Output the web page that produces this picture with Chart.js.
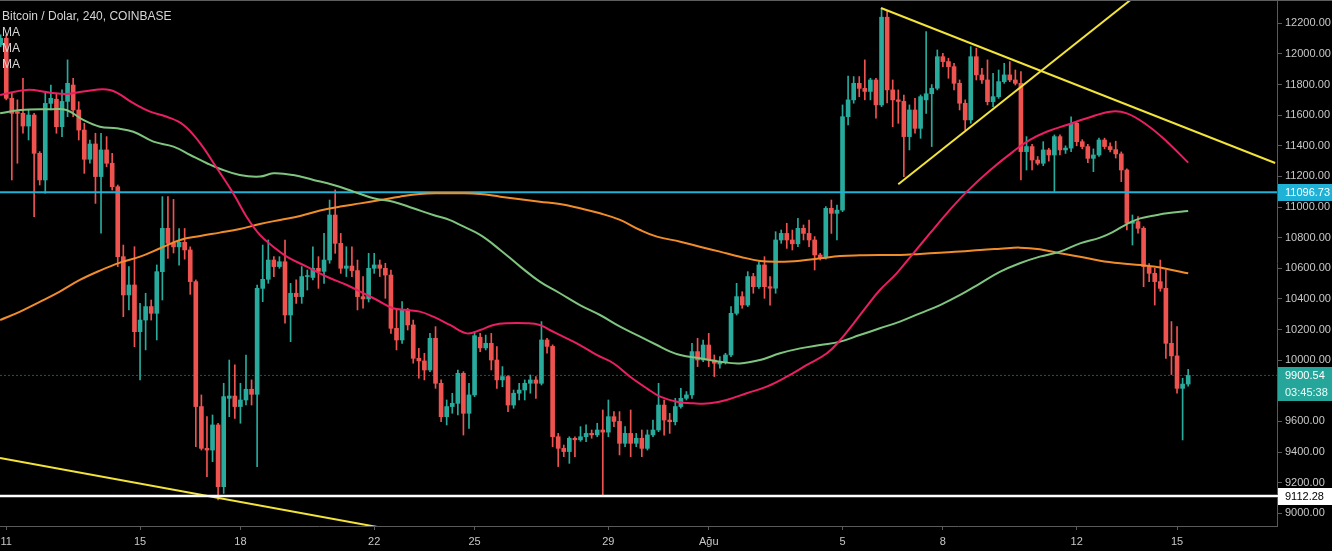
<!DOCTYPE html>
<html><head><meta charset="utf-8">
<script src="https://cdn.jsdelivr.net/npm/chart.js@4.4.1/dist/chart.umd.min.js"></script>
<style>
html,body{margin:0;padding:0;background:#000;overflow:hidden}
#wrap{position:relative;width:1332px;height:551px;background:#000}
canvas{display:block}
.leg{position:absolute;left:2px;color:#d6d6d6;font:12px "Liberation Sans",Arial,sans-serif;line-height:14px;white-space:nowrap}
</style></head><body>
<div id="wrap"><canvas id="c" width="1332" height="551"></canvas>
<div class="leg" style="top:9px">Bitcoin / Dolar, 240, COINBASE</div>
<div class="leg" style="top:25px">MA</div>
<div class="leg" style="top:41px">MA</div>
<div class="leg" style="top:57px">MA</div>
</div>
<script>
// candle index 0 = 11 Jul 00:00, one candle = 4h
const firstIndex = -1;
const opens = [12059,12102,11710,11623,11612,11529,11601,11351,11177,11677,11704,11525,11690,11797,11634,11503,11312,11412,11199,11373,11286,11133,10676,10426,10491,10186,10262,10350,10306,10578,10861,10763,10740,10770,10720,10513,9697,9424,9413,9577,9174,9751,9766,9697,9740,9810,9777,10469,10528,10654,10611,10643,10295,10437,10415,10546,10540,10600,10580,10654,10948,10763,10600,10615,10585,10415,10400,10600,10622,10600,10556,10208,10132,10328,10230,10012,9995,9936,10143,9849,9631,9697,9718,9914,9653,9773,10150,10080,10110,10001,9871,9893,9707,9784,9805,9849,9871,9849,10132,10090,9500,9424,9403,9490,9480,9500,9522,9512,9544,9530,9631,9600,9457,9522,9457,9490,9424,9512,9544,9707,9609,9598,9697,9751,9773,10056,10001,10099,10001,9975,9990,10034,10306,10415,10360,10546,10480,10622,10480,10470,10785,10828,10785,10760,10861,10828,10785,10687,10670,10992,10959,10980,11590,11700,11808,11775,11755,11830,11667,12240,11765,11700,11690,11460,11634,11514,11700,11740,11776,11982,11950,11917,11808,11678,11569,11982,11863,11830,11688,11721,11819,11863,11830,11808,11362,11395,11307,11286,11373,11340,11460,11373,11385,11547,11427,11395,11318,11340,11438,11395,11375,11347,11242,10894,10905,10861,10611,10567,10513,10469,10110,10028,9816,9844];
const highs = [12124,12124,11743,11700,11841,11634,11612,11362,11743,11797,11743,11765,11961,11841,11688,11547,11438,11482,11482,11460,11351,11144,10752,10611,10741,10371,10437,10393,10622,11068,11068,11050,10860,10860,10740,10524,9773,9631,9642,9588,9849,10001,9969,9849,10034,9871,10491,10752,10785,10676,10676,10785,10502,10524,10611,10589,10741,10676,10828,11046,11112,10828,10741,10741,10654,10546,10698,10698,10654,10633,10589,10328,10382,10339,10262,10077,10045,10175,10219,9871,9740,9784,9936,9925,9849,10186,10175,10164,10175,10088,9958,9900,9805,9849,9871,9903,9893,10252,10143,10100,9522,9446,9500,9500,9566,9577,9544,9588,9675,9740,9664,9664,9566,9675,9522,9544,9544,9609,9849,9740,9653,9751,9816,9795,10110,10143,10132,10175,10034,10023,10045,10350,10502,10447,10578,10567,10643,10676,10546,10839,10850,10894,10850,10926,10883,10915,10807,10698,11003,11046,11013,11667,11856,11852,11852,11961,11841,11841,12298,12280,11830,11765,11732,11667,11710,11732,12146,11800,12026,12004,11972,11939,11830,11700,12048,12037,11906,11961,11873,11895,11939,11950,11895,11885,11460,11410,11330,11427,11384,11471,11471,11400,11590,11560,11440,11410,11380,11450,11450,11420,11430,11360,11250,10948,10937,10872,10630,10600,10654,10589,10252,10219,9882,9940];
const lows = [12048,11700,11177,11286,11482,11438,10937,11144,11090,11634,11482,11460,11590,11590,11438,11220,11286,11024,10829,11264,11111,10611,10284,10328,10088,9871,10067,10262,10132,10393,10665,10700,10620,10660,10430,9435,9413,9239,9337,9087,9130,9631,9620,9588,9707,9707,9305,10382,10502,10546,10600,10241,10121,10371,10371,10458,10524,10469,10502,10633,10698,10567,10546,10546,10328,10339,10380,10567,10546,10404,10175,10067,10110,10197,9980,9882,9871,9925,9816,9598,9577,9653,9642,9511,9555,9762,10056,10067,9936,9816,9827,9664,9686,9740,9740,9784,9751,9838,10045,9435,9305,9370,9326,9370,9470,9468,9490,9500,9121,9500,9566,9381,9435,9370,9435,9370,9413,9500,9533,9511,9522,9577,9686,9740,9751,9958,9990,9958,9893,9947,9975,10023,10295,10339,10350,10437,10469,10404,10360,10437,10763,10730,10720,10741,10785,10741,10589,10654,10660,10828,10785,10970,11536,11678,11721,11700,11700,11580,11656,11680,11525,11547,11199,11373,11482,11449,11612,11395,11765,11917,11841,11765,11634,11503,11547,11830,11808,11667,11656,11710,11808,11819,11797,11177,11242,11242,11275,11270,11300,11101,11340,11350,11362,11400,11380,11290,11231,11330,11380,11360,11320,11166,10850,10752,10830,10480,10513,10360,10450,10012,9906,9784,9479,9830];
const closes = [12102,11710,11612,11612,11529,11601,11351,11177,11677,11710,11525,11690,11808,11634,11503,11312,11412,11199,11373,11286,11133,10676,10426,10491,10186,10262,10350,10306,10578,10861,10763,10740,10770,10720,10513,9697,9424,9413,9577,9174,9762,9766,9697,9740,9810,9777,10469,10528,10654,10611,10643,10295,10437,10415,10546,10550,10600,10580,10654,10948,10763,10600,10615,10585,10415,10400,10600,10622,10600,10556,10208,10132,10328,10230,10012,9995,9936,10143,9849,9631,9697,9718,9914,9653,9773,10160,10080,10110,10001,9871,9893,9707,9784,9805,9849,9871,9849,10132,10090,9500,9424,9403,9490,9480,9500,9522,9512,9544,9530,9631,9600,9457,9522,9457,9490,9424,9512,9544,9707,9609,9598,9697,9751,9773,10056,10001,10099,10001,9980,9990,10034,10306,10415,10360,10546,10480,10622,10480,10470,10785,10828,10785,10760,10861,10828,10785,10687,10670,10992,10959,10980,11590,11700,11808,11775,11755,11830,11667,12240,11765,11700,11690,11460,11634,11514,11721,11740,11776,11982,11950,11917,11808,11678,11569,11982,11863,11830,11688,11721,11819,11863,11830,11808,11362,11395,11307,11286,11373,11340,11460,11373,11385,11547,11427,11395,11318,11340,11438,11395,11375,11347,11242,10894,10905,10861,10611,10567,10513,10469,10110,10028,9816,9844,9900.54];

// moving averages: [candle index, price]
const maFast = [[-1.1,11732],[3.7,11765],[7.9,11747],[10.8,11738],[13.8,11754],[18.6,11765],[22.8,11678],[25.8,11623],[28.8,11590],[31.8,11536],[34.8,11416],[37.2,11286],[40.7,11090],[43.1,10937],[45.5,10818],[47.9,10741],[50.3,10676],[53.9,10611],[57.5,10545],[61.1,10491],[63.5,10448],[66.5,10393],[69.4,10339],[71.8,10328],[74.2,10317],[76.6,10284],[79.6,10230],[82.6,10175],[85.0,10197],[87.4,10230],[89.8,10241],[93.4,10241],[95.7,10230],[97.5,10197],[99.9,10154],[102.9,10099],[105.9,10034],[108.9,9980],[111.9,9892],[114.9,9816],[117.3,9762],[120.3,9729],[123.3,9718],[126.2,9718],[129.2,9740],[132.8,9784],[136.4,9827],[140.0,9892],[143.6,9969],[147.2,10045],[149.6,10132],[152.0,10241],[154.3,10350],[156.7,10458],[159.7,10567],[162.7,10698],[165.7,10829],[168.7,10959],[172.3,11101],[176.5,11242],[180.6,11362],[183.6,11438],[186.6,11492],[190.2,11536],[193.8,11580],[198.0,11623],[201.0,11612],[204.6,11536],[208.2,11427],[212.0,11290]];
const maMid = [[-1.1,11612],[2.5,11634],[7.9,11638],[10.8,11634],[13.8,11569],[16.8,11525],[19.8,11514],[22.8,11492],[26.4,11427],[30.0,11395],[33.0,11340],[36.0,11286],[38.3,11250],[41.9,11209],[45.5,11199],[47.9,11220],[51.5,11209],[55.1,11177],[58.7,11144],[62.3,11101],[65.9,11057],[69.4,11035],[73.0,10992],[76.6,10948],[79.6,10915],[81.4,10883],[85.0,10818],[88.6,10720],[92.2,10611],[95.7,10513],[99.3,10437],[102.9,10360],[106.5,10295],[110.1,10219],[113.7,10154],[116.7,10099],[119.1,10056],[120.9,10034],[124.4,10012],[128.0,9990],[131.6,9979],[135.2,10001],[138.8,10045],[142.4,10077],[146.0,10099],[149.6,10121],[153.1,10164],[156.7,10208],[160.3,10252],[163.9,10306],[167.5,10360],[171.1,10426],[174.7,10502],[178.3,10578],[181.8,10633],[185.4,10676],[189.0,10709],[192.6,10763],[196.2,10800],[198.6,10839],[201.0,10889],[203.4,10926],[206.4,10948],[208.2,10959],[212.0,10974]];
const maSlow = [[-1.1,10262],[2.5,10317],[6.1,10382],[9.6,10448],[13.2,10524],[16.8,10585],[20.4,10637],[24.0,10676],[27.6,10731],[31.2,10785],[34.8,10811],[38.3,10833],[41.9,10857],[45.5,10889],[49.1,10916],[52.7,10942],[56.3,10977],[59.9,11003],[63.5,11024],[67.1,11046],[70.6,11068],[74.2,11085],[77.8,11090],[81.4,11090],[85.0,11085],[88.6,11068],[92.2,11051],[95.7,11035],[99.3,11020],[102.9,10992],[106.5,10959],[110.1,10916],[113.7,10850],[116.7,10807],[120.9,10774],[124.4,10741],[128.0,10709],[131.6,10676],[135.2,10648],[138.8,10643],[142.4,10650],[146.0,10665],[149.6,10680],[153.1,10685],[156.7,10687],[160.3,10687],[163.9,10694],[167.5,10702],[171.1,10709],[174.7,10720],[178.3,10728],[181.8,10735],[185.4,10724],[189.0,10698],[192.6,10676],[196.2,10650],[199.8,10633],[203.4,10622],[205.8,10611],[208.2,10596],[212.0,10567]];

// drawn trend lines: [index, price] end points
const trendLow = [[-1.12,9361],[80,8821]];
const trendTop = [[156.9,12300],[227.6,11288]];
const trendUp = [[160.0,11149],[207.0,12507]];

const levelCyan = 11096.73;
const levelWhite = 9112.28;
const lastPrice = 9900.54;
const timerText = '03:45:38';

const xTickIndex = [0,24,42,66,84,108,126,150,168,192,210];
const xTickLabels = ['11','15','18','22','25','29','Ağu','5','8','12','15'];
const yTickValues = [9000,9200,9400,9600,9800,10000,10200,10400,10600,10800,11000,11200,11400,11600,11800,12000,12200];

const X_MIN = -1.121, X_MAX = 227.93, Y_MIN = 8917, Y_MAX = 12352.2;
const UP = '#28ab9c', DOWN = '#ef5350';

const idx = opens.map((_, i) => i + firstIndex);
const candleColors = opens.map((o, i) => closes[i] >= o ? UP : DOWN);
const pts = arr => arr.map(([x, y]) => ({x, y}));
const hline = v => [{x: X_MIN, y: v}, {x: X_MAX, y: v}];

const lineBase = {type: 'line', pointRadius: 0, borderWidth: 2, fill: false, clip: 0, order: 0};

const overlay = {
  id: 'overlay',
  afterDraw(chart) {
    const ctx = chart.ctx, ys = chart.scales.y;
    ctx.save();
    ctx.fillStyle = '#5e5e5e';
    ctx.fillRect(0, 0, 1332, 1);
    ctx.font = '11px "Liberation Sans", Arial, sans-serif';
    ctx.textBaseline = 'middle';
    const box = (cy, text, bg, fg) => {
      ctx.fillStyle = bg;
      ctx.fillRect(1278, Math.round(cy - 8.5), 54, 17);
      ctx.fillStyle = fg;
      ctx.textAlign = 'left';
      ctx.fillText(text, 1285, cy + 0.5);
    };
    const yc = ys.getPixelForValue(levelCyan);
    box(yc, levelCyan.toFixed(2), '#1fb2d6', '#ffffff');
    const yp = ys.getPixelForValue(lastPrice);
    box(yp, lastPrice.toFixed(2), '#26a69a', '#ffffff');
    box(yp + 17.5, timerText, '#26a69a', '#e8fffb');
    const yw = ys.getPixelForValue(levelWhite);
    ctx.fillStyle = '#ffffff';
    ctx.fillRect(1277, Math.round(yw) - 1, 5, 2);
    box(yw, levelWhite.toFixed(2), '#ffffff', '#000000');
    ctx.restore();
  }
};

Chart.defaults.font.family = '"Liberation Sans", Arial, sans-serif';
Chart.defaults.font.size = 11;
Chart.defaults.color = '#c4c4c4';

new Chart(document.getElementById('c'), {
  type: 'bar',
  data: {
    datasets: [
      Object.assign({}, lineBase, {data: pts(maFast), borderColor: '#e91e63', tension: 0.4}),
      Object.assign({}, lineBase, {data: pts(maMid), borderColor: '#7fc47f', tension: 0.4}),
      Object.assign({}, lineBase, {data: pts(maSlow), borderColor: '#f08c2a', tension: 0.4}),
      Object.assign({}, lineBase, {data: hline(levelCyan), borderColor: '#1fb2d6'}),
      Object.assign({}, lineBase, {data: hline(levelWhite), borderColor: '#ffffff', borderWidth: 2.5}),
      Object.assign({}, lineBase, {data: hline(lastPrice), borderColor: 'rgba(38,166,154,0.55)', borderWidth: 1, borderDash: [2, 2]}),
      Object.assign({}, lineBase, {data: pts(trendLow), borderColor: '#f2e33a'}),
      Object.assign({}, lineBase, {data: pts(trendTop), borderColor: '#f2e33a'}),
      Object.assign({}, lineBase, {data: pts(trendUp), borderColor: '#f2e33a'}),
      {type: 'bar', data: idx.map((k, i) => ({x: k, y: [opens[i], closes[i]]})), backgroundColor: candleColors,
       barThickness: 4, grouped: false, minBarLength: 1, borderWidth: 0, order: 1, clip: 0},
      {type: 'bar', data: idx.map((k, i) => ({x: k, y: [lows[i], highs[i]]})), backgroundColor: candleColors,
       barThickness: 1, grouped: false, borderWidth: 0, order: 2, clip: 0}
    ]
  },
  options: {
    responsive: false,
    animation: false,
    events: [],
    layout: {padding: 0},
    plugins: {legend: {display: false}, tooltip: {enabled: false}, title: {display: false}},
    scales: {
      x: {
        type: 'linear', min: X_MIN, max: X_MAX, offset: false,
        grid: {offset: false, drawOnChartArea: false, drawTicks: true, tickLength: 4, color: '#5a5a5a'},
        border: {display: true, color: '#5a5a5a'},
        afterBuildTicks: s => { s.ticks = xTickIndex.map(v => ({value: v})); },
        ticks: {autoSkip: false, maxRotation: 0, padding: 5, color: '#c8c8c8',
                callback: (v, i) => xTickLabels[i]},
        afterFit: s => { s.height = 25; s.paddingLeft = 0; s.paddingRight = 0; }
      },
      y: {
        type: 'linear', position: 'right', min: Y_MIN, max: Y_MAX, beginAtZero: false,
        grid: {drawOnChartArea: false, drawTicks: true, tickLength: 5, color: '#5a5a5a'},
        border: {display: true, color: '#5a5a5a'},
        afterBuildTicks: s => { s.ticks = yTickValues.map(v => ({value: v})); },
        ticks: {padding: 3, color: '#c8c8c8', callback: v => Number(v).toFixed(2)},
        afterFit: s => { s.width = 55; s.paddingTop = 0; s.paddingBottom = 0; }
      }
    }
  },
  plugins: [overlay]
});
</script>
</body></html>
